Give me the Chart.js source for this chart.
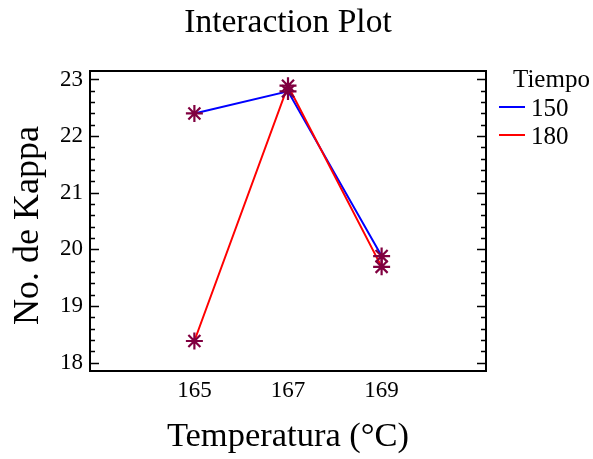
<!DOCTYPE html>
<html><head><meta charset="utf-8">
<script src="https://cdn.jsdelivr.net/npm/chart.js@4"></script>
<style>html,body{margin:0;padding:0;background:#fff}</style>
</head><body>
<canvas id="c" width="593" height="459"></canvas>
<script>
const temperatures = [165, 167, 169];
const tiempo150 = [22.40, 22.79, 19.88];
const tiempo180 = [18.38, 22.89, 19.69];
const seriesLabels = ['150', '180'];
const seriesColors = ['#0000ff', '#ff0000'];
const xTicks = [165, 167, 169];
const yTicks = [18, 19, 20, 21, 22, 23];
const legendTitle = 'Tiempo';

const SERIF = "'Liberation Serif', 'Times New Roman', serif";
const toXY = (vals) => vals.map((v, i) => ({x: temperatures[i], y: v}));
const starColor = '#800040';

const boxPlugin = {
  id: 'boxPlugin',
  beforeDatasetsDraw(chart) {
    const {ctx, chartArea: a, scales} = chart;
    ctx.save();
    ctx.strokeStyle = '#000';
    ctx.lineWidth = 2;
    ctx.strokeRect(a.left, a.top, a.right - a.left, a.bottom - a.top);
    const y = scales.y;
    ctx.lineWidth = 1.5;
    for (let i = 0; i <= 30; i++) {
      const v = 17 + i * 0.2;
      if (v < y.min || v > y.max) continue;
      const major = Math.abs(v - Math.round(v)) < 1e-6;
      const len = major ? 9 : 5;
      const py = Math.round(y.getPixelForValue(v)) + 0.5;
      ctx.beginPath();
      ctx.moveTo(a.left, py); ctx.lineTo(a.left + len, py);
      ctx.moveTo(a.right, py); ctx.lineTo(a.right - len, py);
      ctx.stroke();
    }
    ctx.restore();
  },
  afterDraw(chart) {
    const {ctx, chartArea: a} = chart;
    ctx.save();
    ctx.fillStyle = '#000';
    ctx.textBaseline = 'alphabetic';
    ctx.textAlign = 'left';
    ctx.font = '25px ' + SERIF;
    ctx.fillText(legendTitle, a.right + 27, 87);
    seriesLabels.forEach((lab, i) => {
      const yy = 107 + i * 28;
      ctx.strokeStyle = seriesColors[i];
      ctx.lineWidth = 2;
      ctx.beginPath();
      ctx.moveTo(a.right + 13, yy); ctx.lineTo(a.right + 39, yy);
      ctx.stroke();
      ctx.fillText(lab, a.right + 45, yy + 8.5);
    });
    ctx.restore();
  }
};

new Chart(document.getElementById('c'), {
  type: 'line',
  data: {
    datasets: [
      {label: seriesLabels[0], data: toXY(tiempo150), borderColor: seriesColors[0], borderWidth: 2, pointRadius: 0, order: 2, tension: 0},
      {label: seriesLabels[1], data: toXY(tiempo180), borderColor: seriesColors[1], borderWidth: 2, pointRadius: 0, order: 1, tension: 0},
      {label: 'pts150', data: toXY(tiempo150), showLine: false, pointStyle: 'star', pointRadius: 8.5, pointBorderWidth: 2.2, pointBorderColor: starColor, pointBackgroundColor: starColor, order: 0},
      {label: 'pts180', data: toXY(tiempo180), showLine: false, pointStyle: 'star', pointRadius: 8.5, pointBorderWidth: 2.2, pointBorderColor: starColor, pointBackgroundColor: starColor, order: 0}
    ]
  },
  options: {
    responsive: false,
    animation: false,
    events: [],
    layout: {padding: {left: 0, right: 107, top: 0, bottom: 0}},
    plugins: {
      legend: {display: false},
      tooltip: {enabled: false},
      title: {
        display: true,
        text: 'Interaction Plot',
        fullSize: false,
        color: '#000',
        font: {family: SERIF, size: 33.5, weight: 'normal'},
        padding: {top: 3.5, bottom: 27.3}
      }
    },
    scales: {
      x: {
        type: 'linear',
        min: 162.77, max: 171.23,
        afterBuildTicks: (s) => { s.ticks = xTicks.map(v => ({value: v})); },
        afterFit: (s) => { s.height = 88; },
        grid: {display: false, drawTicks: false},
        border: {display: false},
        ticks: {color: '#000', font: {family: SERIF, size: 23}, padding: 6, callback: (v) => String(v)},
        title: {display: true, text: 'Temperatura (°C)', color: '#000', font: {family: SERIF, size: 34.5}, padding: 1}
      },
      y: {
        type: 'linear',
        min: 17.85, max: 23.15,
        afterBuildTicks: (s) => { s.ticks = yTicks.map(v => ({value: v})); },
        afterFit: (s) => { s.width = 90; },
        grid: {display: false, drawTicks: false},
        border: {display: false},
        ticks: {color: '#000', font: {family: SERIF, size: 23}, padding: 7, callback: (v) => String(v)},
        title: {display: true, text: 'No. de Kappa ', color: '#000', font: {family: SERIF, size: 36}, padding: 7.4}
      }
    }
  },
  plugins: [boxPlugin]
});
</script>
</body></html>
